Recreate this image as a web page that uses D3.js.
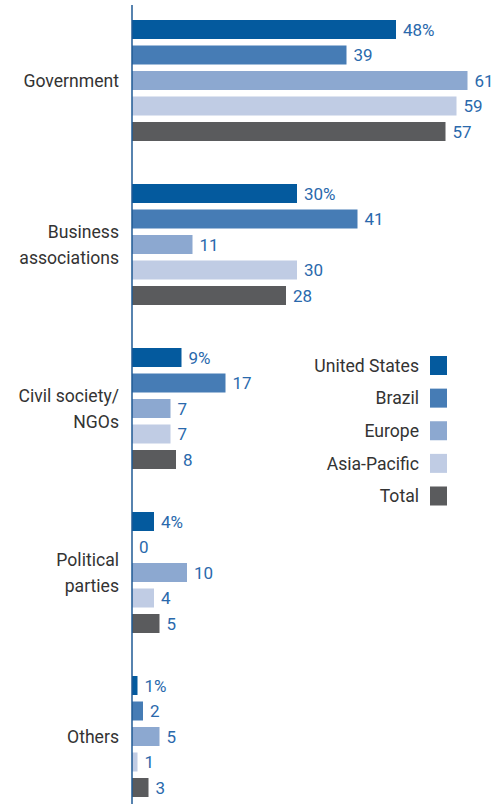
<!DOCTYPE html>
<html>
<head>
<meta charset="utf-8">
<script src="https://cdn.jsdelivr.net/npm/d3@7"></script>
<style>
  html, body { margin: 0; padding: 0; background: #fff; }
  svg text { font-family: Roboto, "Noto Sans", sans-serif; }
</style>
</head>
<body>
<svg id="chart" width="502" height="804"></svg>
<script>
// Categories (line breaks mark where labels wrap)
const categories = ["Government", "Business\nassociations", "Civil society/\nNGOs", "Political\nparties", "Others"];
const seriesNames = ["United States", "Brazil", "Europe", "Asia-Pacific", "Total"];

// Share of respondents, percent
const unitedStates = [48, 30, 9, 4, 1];
const brazil       = [39, 41, 17, 0, 2];
const europe       = [61, 11, 7, 10, 5];
const asiaPacific  = [59, 30, 7, 4, 1];
const total        = [57, 28, 8, 5, 3];

const seriesValues = [unitedStates, brazil, europe, asiaPacific, total];
const colors = ["#045a9e", "#467cb5", "#8ca8d0", "#c0cce4", "#5a5b5d"];

const svg = d3.select("#chart");

const x = d3.scaleLinear().domain([0, 60]).range([132, 462]);

const groupHeight = 121;
const y0 = d3.scaleBand()
  .domain(categories)
  .range([20, 797])
  .paddingInner(1 - groupHeight / 164)
  .paddingOuter(0);

const y1 = d3.scaleBand()
  .domain(seriesNames)
  .range([0, groupHeight])
  .paddingInner(0.255)
  .paddingOuter(0);

const rows = categories.map((c, i) => ({
  category: c,
  values: seriesNames.map((s, j) => ({ series: s, idx: j, value: seriesValues[j][i], first: j === 0 }))
}));

const groups = svg.selectAll("g.group")
  .data(rows)
  .join("g")
  .attr("class", "group")
  .attr("transform", d => `translate(0,${y0(d.category)})`);

groups.selectAll("rect")
  .data(d => d.values)
  .join("rect")
  .attr("x", x(0))
  .attr("y", d => y1(d.series))
  .attr("width", d => x(d.value) - x(0))
  .attr("height", y1.bandwidth())
  .attr("fill", d => colors[d.idx]);

groups.selectAll("text.value")
  .data(d => d.values)
  .join("text")
  .attr("class", "value")
  .attr("x", d => x(d.value) + 7)
  .attr("y", d => y1(d.series) + y1.bandwidth() / 2)
  .attr("dy", "0.36em")
  .attr("font-size", 17)
  .attr("fill", "#2a69ac")
  .text(d => d.first ? d.value + "%" : d.value);

// Category labels
groups.each(function(d) {
  const lines = d.category.split("\n");
  const lh = 25.5;
  const cy = groupHeight / 2 + (lines.length > 1 ? 0 : 0);
  const t = d3.select(this).append("text")
    .attr("text-anchor", "end")
    .attr("font-size", 17.6)
    .attr("fill", "#333333");
  lines.forEach((ln, k) => {
    t.append("tspan")
      .attr("x", 119)
      .attr("y", cy + (k - (lines.length - 1) / 2) * lh)
      .attr("dy", "0.36em")
      .text(ln);
  });
});

// Vertical baseline axis
svg.append("line")
  .attr("x1", x(0)).attr("x2", x(0))
  .attr("y1", 5).attr("y2", 804)
  .attr("stroke", "#1f5a94")
  .attr("stroke-width", 1.5);

// Legend
const legendY = d3.scalePoint().domain(seriesNames).range([365.5, 496]);
const legend = svg.append("g")
  .selectAll("g")
  .data(seriesNames)
  .join("g")
  .attr("transform", d => `translate(0,${legendY(d)})`);

legend.append("rect")
  .attr("x", 430).attr("y", -9.5)
  .attr("width", 17).attr("height", 19)
  .attr("fill", (d, i) => colors[i]);

legend.append("text")
  .attr("x", 419)
  .attr("dy", "0.36em")
  .attr("text-anchor", "end")
  .attr("font-size", 17.6)
  .attr("fill", "#333333")
  .text(d => d);
</script>
</body>
</html>
